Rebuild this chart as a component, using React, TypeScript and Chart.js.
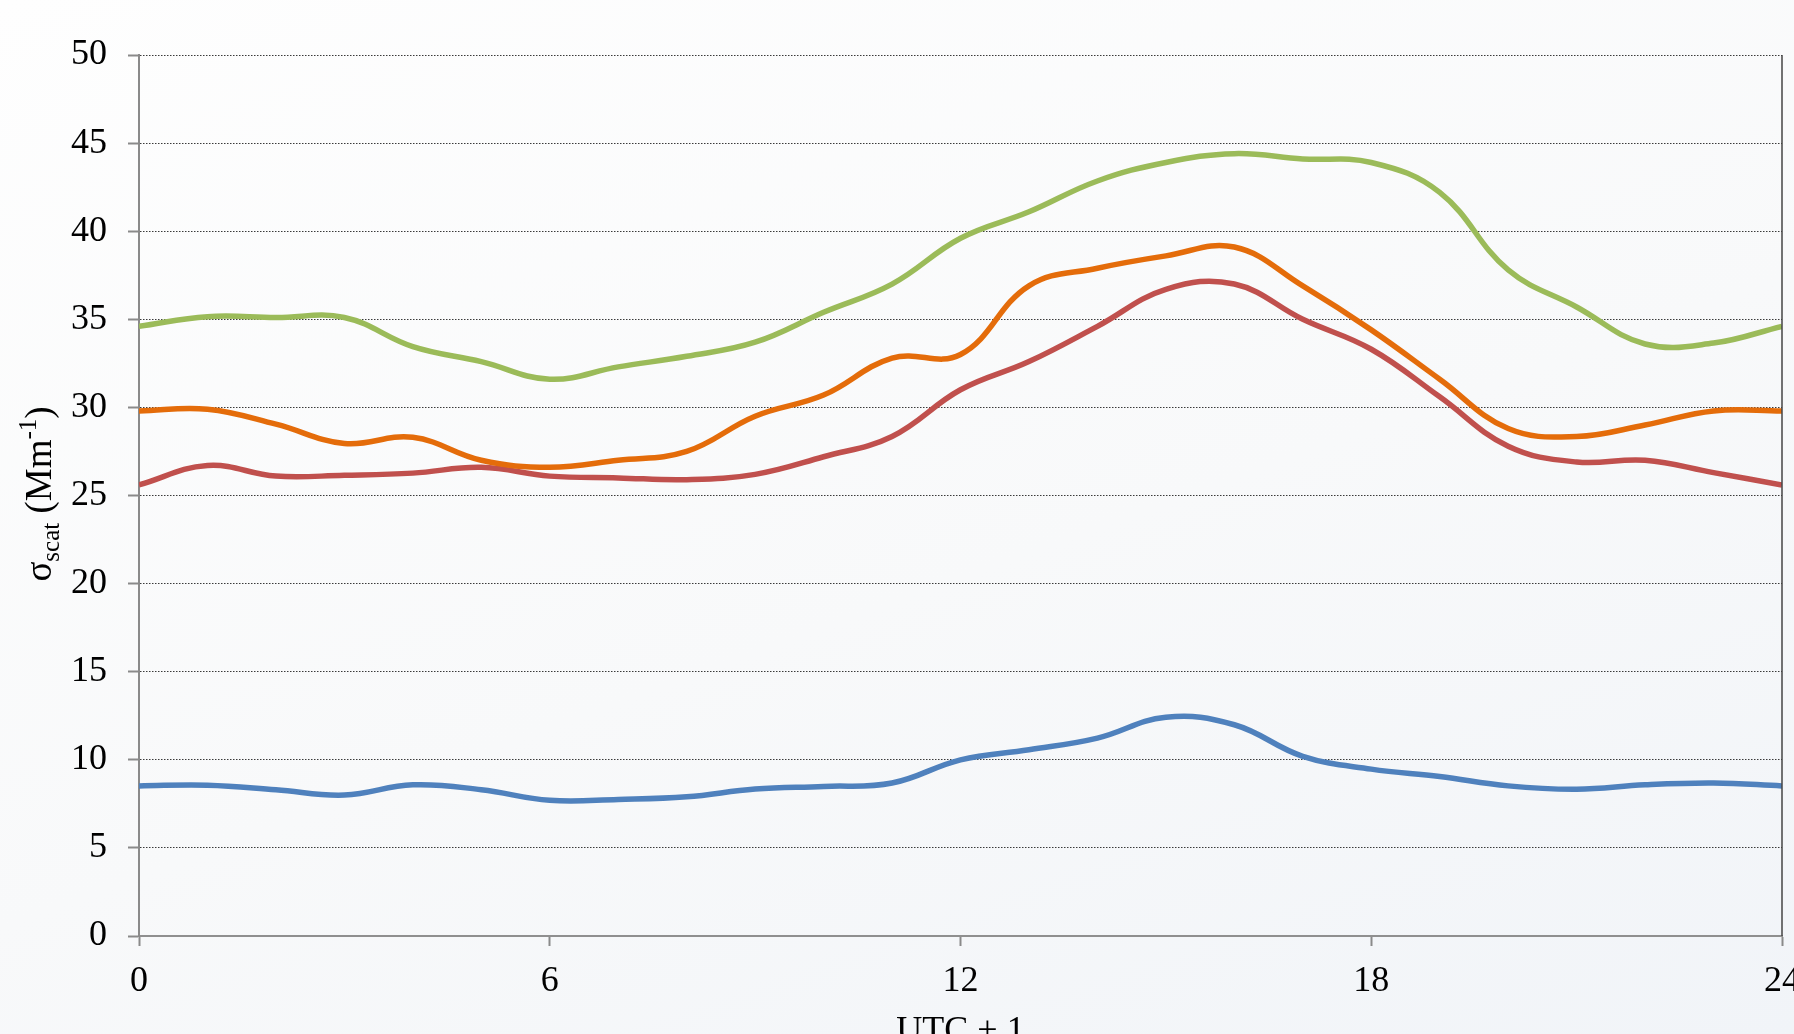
import React, { useEffect, useRef } from "react";
import { Chart, registerables } from "chart.js";

Chart.register(...registerables);

const hours = [0, 1, 2, 3, 4, 5, 6, 7, 8, 9, 10, 11, 12, 13, 14, 15, 16, 17, 18, 19, 20, 21, 22, 23, 24];

const greenSeries = [34.6, 35.15, 35.1, 35.1, 33.45, 32.6, 31.6, 32.3, 32.9, 33.7, 35.4, 37.0, 39.6, 41.1, 42.85, 43.9, 44.4, 44.1, 43.9, 42.2, 37.8, 35.7, 33.6, 33.65, 34.6];
const orangeSeries = [29.8, 29.9, 29.05, 27.95, 28.3, 27.0, 26.6, 27.0, 27.5, 29.5, 30.7, 32.8, 33.0, 36.9, 37.9, 38.6, 39.1, 36.9, 34.4, 31.6, 28.8, 28.35, 29.0, 29.8, 29.8];
const redSeries = [25.6, 26.7, 26.1, 26.15, 26.27, 26.6, 26.1, 26.0, 25.9, 26.2, 27.2, 28.35, 31.0, 32.6, 34.6, 36.7, 37.0, 35.0, 33.3, 30.6, 27.8, 26.9, 27.0, 26.3, 25.6];
const blueSeries = [8.52, 8.56, 8.3, 8.0, 8.58, 8.3, 7.7, 7.75, 7.9, 8.34, 8.49, 8.68, 10.0, 10.57, 11.23, 12.42, 11.99, 10.2, 9.47, 9.05, 8.52, 8.33, 8.58, 8.68, 8.52];

const xTickValues = [0, 6, 12, 18, 24];
const yTickValues = [0, 5, 10, 15, 20, 25, 30, 35, 40, 45, 50];

const xTitle = "UTC + 1";
const yTitleParts = [
  { text: "σ", kind: "main" },
  { text: "scat", kind: "sub" },
  { text: " (Mm", kind: "main" },
  { text: "-1", kind: "sup" },
  { text: ")", kind: "main" },
];

const FONT = "'Liberation Serif', 'DejaVu Serif', serif";

const toPoints = (vals: number[]) => hours.map((h, i) => ({ x: h, y: vals[i] }));

const titlesPlugin = {
  id: "customTitles",
  afterDraw(chart: any) {
    const ctx = chart.ctx as CanvasRenderingContext2D;
    const area = chart.chartArea;
    ctx.save();
    // right frame line
    ctx.strokeStyle = "#444";
    ctx.lineWidth = 1.5;
    ctx.beginPath();
    ctx.moveTo(area.right, area.top);
    ctx.lineTo(area.right, area.bottom);
    ctx.stroke();

    // x title
    ctx.fillStyle = "#000";
    ctx.font = `36px ${FONT}`;
    ctx.textAlign = "center";
    ctx.textBaseline = "alphabetic";
    ctx.fillText(xTitle, (area.left + area.right) / 2, 1041);

    // y title with sub/superscript
    const fontFor = (k: string) => (k === "main" ? `37px ${FONT}` : `25px ${FONT}`);
    const offFor = (k: string) => (k === "sub" ? 8 : k === "sup" ? -15 : 0);
    let total = 0;
    for (const p of yTitleParts) {
      ctx.font = fontFor(p.kind);
      total += ctx.measureText(p.text).width;
    }
    ctx.translate(51, 494);
    ctx.rotate(-Math.PI / 2);
    ctx.textAlign = "left";
    let x = -total / 2;
    for (const p of yTitleParts) {
      ctx.font = fontFor(p.kind);
      ctx.fillText(p.text, x, offFor(p.kind));
      x += ctx.measureText(p.text).width;
    }
    ctx.restore();
  },
};

export default function App() {
  const canvasRef = useRef<HTMLCanvasElement | null>(null);

  useEffect(() => {
    document.body.style.margin = "0";
    const canvas = canvasRef.current;
    if (!canvas) return;
    const lineDs = (label: string, data: number[], color: string) => ({
      label,
      data: toPoints(data),
      borderColor: color,
      backgroundColor: color,
      borderWidth: 5.5,
      pointRadius: 0,
      tension: 0.4,
      fill: false,
    });
    const chart = new Chart(canvas, {
      type: "line",
      data: {
        datasets: [
          lineDs("green", greenSeries, "#9BBB59"),
          lineDs("orange", orangeSeries, "#E46C0A"),
          lineDs("red", redSeries, "#C0504D"),
          lineDs("blue", blueSeries, "#4F81BD"),
        ],
      },
      options: {
        responsive: false,
        maintainAspectRatio: false,
        animation: false,
        layout: { padding: { top: 55, right: 12, left: 0, bottom: 0 } },
        plugins: {
          legend: { display: false },
          tooltip: { enabled: false },
        },
        scales: {
          x: {
            type: "linear",
            min: 0,
            max: 24,
            afterBuildTicks: (scale: any) => {
              scale.ticks = xTickValues.map((v) => ({ value: v }));
            },
            afterFit: (scale: any) => {
              scale.height = 98;
              scale.paddingLeft = 0;
              scale.paddingRight = 0;
            },
            ticks: {
              color: "#000",
              font: { family: FONT, size: 36 },
              padding: 14,
              maxRotation: 0,
              autoSkip: false,
            },
            grid: {
              drawOnChartArea: false,
              drawTicks: true,
              tickLength: 10,
              tickColor: "#8a8a8a",
              tickWidth: 2,
            },
            border: { color: "#8f8f8f", width: 2 },
          },
          y: {
            type: "linear",
            min: 0,
            max: 50,
            afterBuildTicks: (scale: any) => {
              scale.ticks = yTickValues.map((v) => ({ value: v }));
            },
            afterFit: (scale: any) => {
              scale.width = 139;
              scale.paddingTop = 0;
              scale.paddingBottom = 0;
            },
            ticks: {
              color: "#000",
              font: { family: FONT, size: 36 },
              padding: 21,
            },
            grid: {
              color: "#3a3a3a",
              lineWidth: 1,
              drawTicks: true,
              tickLength: 11,
              tickColor: "#8a8a8a",
              tickWidth: 2,
              tickBorderDash: [],
            },
            border: { color: "#8a8a8a", width: 2, dash: [1.5, 1.5] },
          },
        },
      },
      plugins: [titlesPlugin],
    } as any);
    return () => chart.destroy();
  }, []);

  return (
    <div
      style={{
        position: "fixed",
        left: 0,
        top: 0,
        width: 1794,
        height: 1034,
        background: "linear-gradient(160deg, #fefefe 0%, #f8f9fa 55%, #f1f4f8 100%)",
        overflow: "hidden",
      }}
    >
      <canvas ref={canvasRef} width={1794} height={1034} style={{ display: "block", position: "absolute", left: 0, top: 0 }} />
    </div>
  );
}
